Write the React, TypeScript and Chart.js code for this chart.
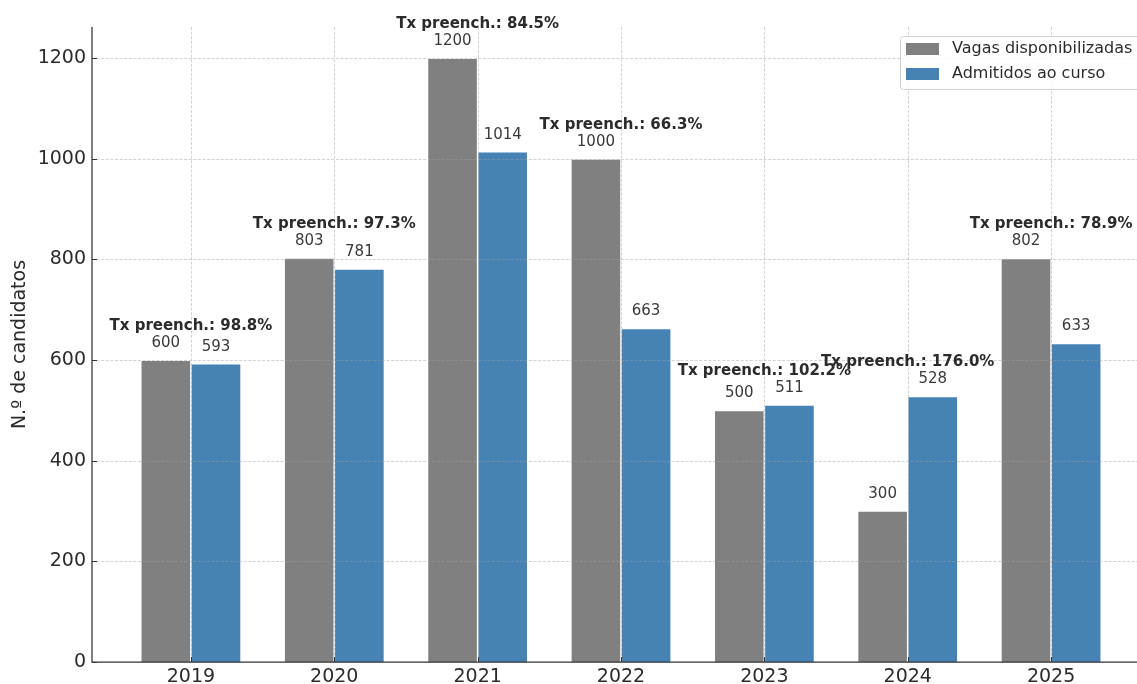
import React, { useEffect, useRef } from "react";
import { Chart, registerables } from "chart.js";

Chart.register(...registerables);

const years = ["2019", "2020", "2021", "2022", "2023", "2024", "2025"];
const vagas = [600, 803, 1200, 1000, 500, 300, 802];
const admitidos = [593, 781, 1014, 663, 511, 528, 633];
const yTicks = [0, 200, 400, 600, 800, 1000, 1200];
const seriesNames = ["Vagas disponibilizadas", "Admitidos ao curso"];
const seriesColors = ["#808080", "#4682B4"];
const yTitle = "N.º de candidatos";

const FONT = "'DejaVu Sans', 'Liberation Sans', sans-serif";

const overlayPlugin = {
  id: "overlay",
  afterDatasetsDraw(chart: any) {
    const ctx = chart.ctx as CanvasRenderingContext2D;
    const xs = chart.scales.x;
    const ys = chart.scales.y;
    const area = chart.chartArea;
    ctx.save();

    // grid (drawn over bars)
    ctx.strokeStyle = "rgba(160,160,160,0.6)";
    ctx.lineWidth = 0.8;
    ctx.setLineDash([3, 1.6]);
    yTicks.forEach((v) => {
      if (v === 0) return;
      const py = Math.round(ys.getPixelForValue(v)) + 0.5;
      ctx.beginPath();
      ctx.moveTo(area.left, py);
      ctx.lineTo(area.right, py);
      ctx.stroke();
    });
    years.forEach((_, i) => {
      const px = Math.round(xs.getPixelForValue(i)) + 0.5;
      ctx.beginPath();
      ctx.moveTo(px, area.top);
      ctx.lineTo(px, area.bottom);
      ctx.stroke();
    });
    ctx.setLineDash([]);

    // spines
    ctx.strokeStyle = "#333333";
    ctx.lineWidth = 1.25;
    ctx.beginPath();
    ctx.moveTo(area.left, area.top);
    ctx.lineTo(area.left, area.bottom);
    ctx.lineTo(area.right, area.bottom);
    ctx.stroke();

    // inward ticks
    ctx.lineWidth = 1;
    yTicks.forEach((v) => {
      const py = Math.round(ys.getPixelForValue(v)) + 0.5;
      ctx.beginPath();
      ctx.moveTo(area.left, py);
      ctx.lineTo(area.left + 5, py);
      ctx.stroke();
    });
    years.forEach((_, i) => {
      const px = Math.round(xs.getPixelForValue(i)) + 0.5;
      ctx.beginPath();
      ctx.moveTo(px, area.bottom);
      ctx.lineTo(px, area.bottom - 5);
      ctx.stroke();
    });

    // tick labels
    ctx.fillStyle = "#2b2b2b";
    ctx.font = `19px ${FONT}`;
    ctx.textAlign = "right";
    ctx.textBaseline = "middle";
    yTicks.forEach((v) => {
      ctx.fillText(String(v), area.left - 6, ys.getPixelForValue(v));
    });
    ctx.textAlign = "center";
    years.forEach((y, i) => {
      ctx.fillText(y, xs.getPixelForValue(i), area.bottom + 15);
    });

    // y title
    ctx.save();
    ctx.translate(20, (area.top + area.bottom) / 2);
    ctx.rotate(-Math.PI / 2);
    ctx.textAlign = "center";
    ctx.textBaseline = "middle";
    ctx.font = `19px ${FONT}`;
    ctx.fillText(yTitle, 0, 0);
    ctx.restore();

    // value labels
    ctx.font = `15px ${FONT}`;
    ctx.fillStyle = "#3a3a3a";
    ctx.textAlign = "center";
    ctx.textBaseline = "middle";
    [0, 1].forEach((d) => {
      const meta = chart.getDatasetMeta(d);
      const vals = d === 0 ? vagas : admitidos;
      meta.data.forEach((bar: any, i: number) => {
        ctx.fillText(String(vals[i]), bar.x, bar.y - 17);
      });
    });

    // fill-rate labels
    ctx.font = `bold 15px ${FONT}`;
    ctx.fillStyle = "#2b2b2b";
    years.forEach((_, i) => {
      const rate = (admitidos[i] / vagas[i]) * 100;
      const top = ys.getPixelForValue(Math.max(vagas[i], admitidos[i]));
      ctx.fillText(`Tx preench.: ${rate.toFixed(1)}%`, xs.getPixelForValue(i), top - 34);
    });

    // legend
    const lx = 900, ly = 36, lw = 262, lh = 53;
    ctx.fillStyle = "rgba(255,255,255,0.85)";
    ctx.strokeStyle = "#d0d0d0";
    ctx.lineWidth = 1;
    ctx.beginPath();
    (ctx as any).roundRect(lx + 0.5, ly + 0.5, lw, lh, 3);
    ctx.fill();
    ctx.stroke();
    ctx.font = `16px ${FONT}`;
    ctx.textAlign = "left";
    ctx.textBaseline = "middle";
    seriesNames.forEach((name, k) => {
      const cy = 49 + k * 25;
      ctx.fillStyle = seriesColors[k];
      ctx.fillRect(906, cy - 6, 33, 12);
      ctx.fillStyle = "#2b2b2b";
      ctx.fillText(name, 952, cy);
    });

    ctx.restore();
  },
};

export default function App() {
  const ref = useRef<HTMLCanvasElement | null>(null);
  useEffect(() => {
    if (!ref.current) return;
    const chart = new Chart(ref.current, {
      type: "bar",
      data: {
        datasets: [
          {
            label: seriesNames[0],
            data: vagas.map((v, i) => ({ x: i, y: v })),
            backgroundColor: seriesColors[0],
            borderColor: "rgba(255,255,255,0.5)",
            borderWidth: 0.8,
            categoryPercentage: 0.7,
            barPercentage: 1.0,
          },
          {
            label: seriesNames[1],
            data: admitidos.map((v, i) => ({ x: i, y: v })),
            backgroundColor: seriesColors[1],
            borderColor: "rgba(255,255,255,0.5)",
            borderWidth: 0.8,
            categoryPercentage: 0.7,
            barPercentage: 1.0,
          },
        ],
      },
      options: {
        animation: false,
        responsive: false,
        devicePixelRatio: 1,
        layout: { padding: { left: 92, top: 27, right: 10, bottom: 22 } },
        plugins: { legend: { display: false }, tooltip: { enabled: false } },
        scales: {
          x: {
            type: "linear",
            min: -0.69,
            max: 6.69,
            offset: false,
            display: false,
            afterBuildTicks: (scale: any) => {
              scale.ticks = years.map((_, i) => ({ value: i }));
            },
          },
          y: {
            type: "linear",
            min: 0,
            max: 1262,
            display: false,
            afterBuildTicks: (scale: any) => {
              scale.ticks = yTicks.map((v) => ({ value: v }));
            },
          },
        },
      } as any,
      plugins: [overlayPlugin],
    });
    return () => chart.destroy();
  }, []);
  return (
    <canvas
      ref={ref}
      width={1160}
      height={684}
      style={{ position: "fixed", left: 0, top: 0, background: "#fff" }}
    />
  );
}
